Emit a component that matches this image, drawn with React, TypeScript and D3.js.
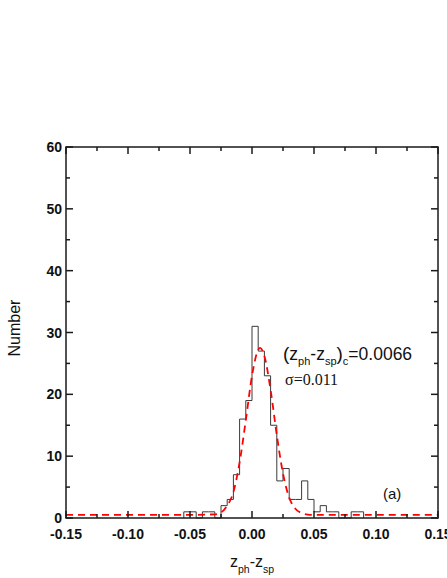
import React from "react";
import * as d3 from "d3";

// histogram: bin counts starting at binStart, each binWidth wide
const binStart = -0.055;
const binWidth = 0.005;
const counts = [
  1, 1, 0, 1, 1, 0, 2, 3, 7, 16, 19, 31, 27, 23, 15, 6, 8, 3, 3, 6, 3, 1, 2, 1,
  1, 0, 0, 1, 1,
];

// gaussian fit curve
const fitX = [
  -0.15, -0.1, -0.05, -0.03, -0.025, -0.02, -0.015, -0.01, -0.005, 0, 0.005,
  0.0066, 0.01, 0.015, 0.02, 0.025, 0.03, 0.035, 0.04, 0.045, 0.05, 0.1, 0.15,
];
const fitY = [
  0.5, 0.5, 0.5, 0.6, 0.9, 2.0, 4.2, 9.0, 15.8, 23.0, 27.2, 27.5, 26.2, 20.7,
  13.4, 7.2, 3.3, 1.5, 0.8, 0.55, 0.5, 0.5, 0.5,
];

const xMajor = [-0.15, -0.1, -0.05, 0, 0.05, 0.1, 0.15];
const xLabels = ["-0.15", "-0.10", "-0.05", "0.00", "0.05", "0.10", "0.15"];
const xMinor = [-0.125, -0.075, -0.025, 0.025, 0.075, 0.125];
const yMajor = [0, 10, 20, 30, 40, 50, 60];
const yMinor = [5, 15, 25, 35, 45, 55];

const W = 447;
const H = 578;
const sans = "'Liberation Sans', Arial, sans-serif";

export default function App() {
  const x = d3.scaleLinear().domain([-0.15, 0.15]).range([66, 438]);
  const y = d3.scaleLinear().domain([0, 60]).range([518, 147]);

  const stepPts: [number, number][] = [[binStart, 0]];
  counts.forEach((c, i) => stepPts.push([binStart + i * binWidth, c]));
  stepPts.push([binStart + counts.length * binWidth, 0]);
  const stepLine = d3
    .line<[number, number]>()
    .x((d) => x(d[0]))
    .y((d) => y(d[1]))
    .curve(d3.curveStepAfter);

  const fitLine = d3
    .line<number>()
    .x((d) => x(d))
    .y((_, i) => y(fitY[i]))
    .curve(d3.curveMonotoneX);

  const [x0, x1] = x.range();
  const [y0, y1] = y.range();

  return (
    <div style={{ position: "fixed", left: 0, top: 0 }}>
      <svg width={W} height={H} style={{ display: "block", background: "#fff" }}>
        <defs>
          <clipPath id="plot">
            <rect x={x0} y={y1} width={x1 - x0} height={y0 - y1} />
          </clipPath>
        </defs>

        <path
          d={stepLine(stepPts) || ""}
          fill="none"
          stroke="#3a3a3a"
          strokeWidth={1}
        />
        <path
          d={fitLine(fitX) || ""}
          fill="none"
          stroke="#ff0000"
          strokeWidth={1.8}
          strokeDasharray="7,5"
          clipPath="url(#plot)"
        />

        {/* frame */}
        <rect
          x={x0}
          y={y1}
          width={x1 - x0}
          height={y0 - y1}
          fill="none"
          stroke="#1a1a1a"
          strokeWidth={1.5}
        />

        {/* x ticks, inside, top and bottom */}
        {xMajor.map((v) => (
          <g key={"xM" + v}>
            <line x1={x(v)} x2={x(v)} y1={y0} y2={y0 - 7} stroke="#1a1a1a" strokeWidth={1.5} />
            <line x1={x(v)} x2={x(v)} y1={y1} y2={y1 + 7} stroke="#1a1a1a" strokeWidth={1.5} />
          </g>
        ))}
        {xMinor.map((v) => (
          <g key={"xm" + v}>
            <line x1={x(v)} x2={x(v)} y1={y0} y2={y0 - 4} stroke="#1a1a1a" strokeWidth={1.5} />
            <line x1={x(v)} x2={x(v)} y1={y1} y2={y1 + 4} stroke="#1a1a1a" strokeWidth={1.5} />
          </g>
        ))}
        {yMajor.map((v) => (
          <g key={"yM" + v}>
            <line x1={x0} x2={x0 + 7} y1={y(v)} y2={y(v)} stroke="#1a1a1a" strokeWidth={1.5} />
            <line x1={x1} x2={x1 - 7} y1={y(v)} y2={y(v)} stroke="#1a1a1a" strokeWidth={1.5} />
          </g>
        ))}
        {yMinor.map((v) => (
          <g key={"ym" + v}>
            <line x1={x0} x2={x0 + 4} y1={y(v)} y2={y(v)} stroke="#1a1a1a" strokeWidth={1.5} />
            <line x1={x1} x2={x1 - 4} y1={y(v)} y2={y(v)} stroke="#1a1a1a" strokeWidth={1.5} />
          </g>
        ))}

        {/* tick labels */}
        {xMajor.map((v, i) => (
          <text
            key={"xl" + v}
            x={x(v)}
            y={538.5}
            textAnchor="middle"
            fontFamily={sans}
            fontWeight="bold"
            fontSize={14}
            fill="#111"
          >
            {xLabels[i]}
          </text>
        ))}
        {yMajor.map((v) => (
          <text
            key={"yl" + v}
            x={62}
            y={y(v)}
            dy="0.36em"
            textAnchor="end"
            fontFamily={sans}
            fontWeight="bold"
            fontSize={14}
            fill="#111"
          >
            {v}
          </text>
        ))}

        {/* axis titles */}
        <text
          transform="translate(20,328) rotate(-90)"
          textAnchor="middle"
          fontFamily={sans}
          fontSize={16}
          fill="#111"
        >
          Number
        </text>
        <text x={230} y={566.5} fontFamily={sans} fontSize={16} fill="#111">
          z<tspan fontSize={10.5} dy={6}>ph</tspan>
          <tspan dy={-6}>-z</tspan>
          <tspan fontSize={10.5} dy={6}>sp</tspan>
        </text>

        {/* annotation */}
        <text x={283} y={360} fontFamily={sans} fontSize={17.5} fill="#111">
          <tspan fontSize={19}>(</tspan>
          <tspan>z</tspan>
          <tspan fontSize={11} dy={5}>ph</tspan>
          <tspan dy={-5}>-z</tspan>
          <tspan fontSize={11} dy={5}>sp</tspan>
          <tspan fontSize={19} dy={-5}>)</tspan>
          <tspan fontSize={11} dy={5}>c</tspan>
          <tspan dy={-5}>=0.0066</tspan>
        </text>
        <text
          x={285}
          y={385}
          fontFamily="'Liberation Serif', 'Times New Roman', serif"
          fontSize={16}
          fill="#111"
        >
          σ=0.011
        </text>
        <text x={383} y={499} fontFamily={sans} fontSize={15} fill="#111">
          (a)
        </text>
      </svg>
    </div>
  );
}
